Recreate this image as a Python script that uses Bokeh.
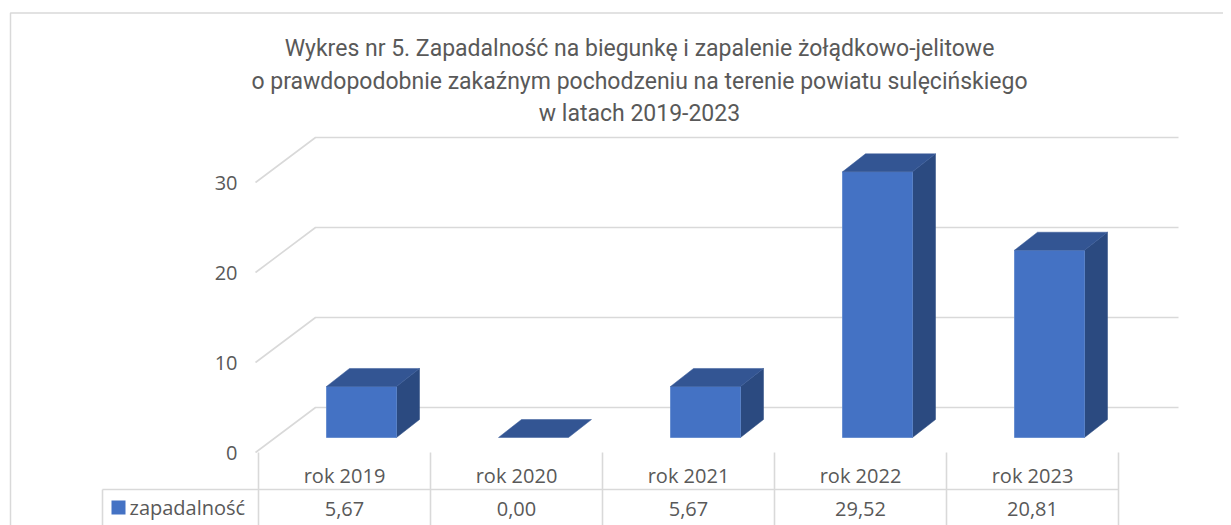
from bokeh.plotting import figure
from bokeh.models import Range1d
from bokeh.embed import file_html
from bokeh.resources import INLINE
from bokeh.core.properties import value

# ---- data ----
categories = ["rok 2019", "rok 2020", "rok 2021", "rok 2022", "rok 2023"]
zapadalnosc = [5.67, 0.00, 5.67, 29.52, 20.81]
series_name = "zapadalność"
y_ticks = [0, 10, 20, 30]
title_lines = [
    "Wykres nr 5. Zapadalność na biegunkę i zapalenie żołądkowo-jelitowe",
    "o prawdopodobnie zakaźnym pochodzeniu na terenie powiatu sulęcińskiego",
    "w latach 2019-2023",
]

# ---- layout constants (pixel geometry of the 3D look) ----
W, H = 1223, 525
CX0, SX = 344.0, 172.0   # picture x of category 0, px per category
CY0, SY = 437.0, 9.0     # picture y of value 0, px per unit


def X(wx):
    return (wx - CX0) / SX


def Y(wy):
    return (CY0 - wy) / SY


p = figure(width=W, height=H, output_backend="svg", toolbar_location=None,
           x_range=Range1d(X(0), X(W)), y_range=Range1d(Y(H), Y(0)),
           x_axis_type=None, y_axis_type=None, min_border=0)
p.outline_line_color = None
p.grid.visible = False
p.background_fill_color = "white"
p.border_fill_color = "white"

GRID = "#d9d9d9"
TXT = "#595959"
FONT = value("Open Sans")
TFONT = value("Roboto")

# outer chart frame
p.line([X(10), X(10), X(1300)], [Y(560), Y(12.5), Y(12.5)], line_color=GRID, line_width=1.5)

# title
for k, t in enumerate(title_lines):
    p.text([X(639)], [Y(48 + 32.5 * k)], text=[t], text_font=TFONT, text_font_size="23px",
           text_color=TXT, text_align="center", text_baseline="alphabetic")

# 3D gridlines: front-left diagonal + back wall line
v_front0, v_back0 = Y(452), Y(407)
for t in y_ticks:
    p.line([X(255), X(315), X(1178)], [v_front0 + t, v_back0 + t, v_back0 + t],
           line_color=GRID, line_width=1.6)
    p.text([X(237)], [v_front0 + t], text=[str(t)], text_font=FONT, text_font_size="20px",
           text_color=TXT, text_align="right", text_baseline="middle")

# 3D bars
BOFF, BW = 17 / SX, 70 / SX
DX, DV = 23 / SX, 18 / SY
fx, fy, tx, ty, sx, sy = [], [], [], [], [], []
for i, v in enumerate(zapadalnosc):
    l = i + BOFF - BW / 2
    r = i + BOFF + BW / 2
    if v > 0:
        fx.append([l, r, r, l]); fy.append([0, 0, v, v])
        sx.append([r, r + DX, r + DX, r]); sy.append([0, DV, v + DV, v])
    tx.append([l, r, r + DX, l + DX]); ty.append([v, v, v + DV, v + DV])
p.patches(sx, sy, fill_color="#2B4A80", line_color="#2B4A80", line_width=0.5)
p.patches(fx, fy, fill_color="#4472C4", line_color="#5B84CC", line_width=0.8)
p.patches(tx, ty, fill_color="#335593", line_color="#3A5C9A", line_width=0.5)

# data table
n = len(categories)
for k in range(n + 1):
    p.line([k - 0.5, k - 0.5], [Y(452), Y(560)], line_color=GRID, line_width=1.6)
p.line([X(102), n - 0.5], [Y(489), Y(489)], line_color=GRID, line_width=1.6)
p.line([X(102), X(102)], [Y(489), Y(560)], line_color=GRID, line_width=1.6)

xs = list(range(n))
p.text(xs, [Y(475)] * n, text=categories, text_font=FONT, text_font_size="20px",
       text_color=TXT, text_align="center", text_baseline="middle")
vals = [f"{v:.2f}".replace(".", ",") for v in zapadalnosc]
p.text(xs, [Y(508)] * n, text=vals, text_font=FONT, text_font_size="20px",
       text_color=TXT, text_align="center", text_baseline="middle")

# legend key in table
p.quad(left=[X(111)], right=[X(125)], top=[Y(500)], bottom=[Y(514)],
       fill_color="#4472C4", line_color=None)
p.text([X(129)], [Y(507)], text=[series_name], text_font=FONT, text_font_size="20px",
       text_color=TXT, text_align="left", text_baseline="middle")

open("out.html", "w").write(file_html(p, INLINE))
